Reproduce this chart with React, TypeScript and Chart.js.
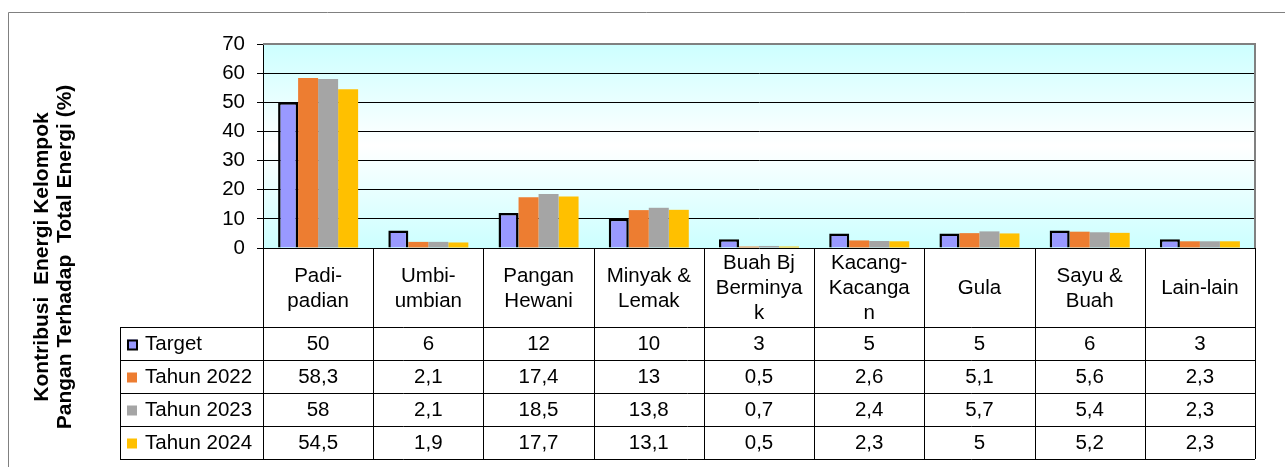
import React, { useEffect, useRef } from "react";
import { Chart, registerables } from "chart.js";

Chart.register(...registerables);

const categories: string[][] = [
  ["Padi-", "padian"],
  ["Umbi-", "umbian"],
  ["Pangan", "Hewani"],
  ["Minyak &", "Lemak"],
  ["Buah Bj", "Berminya", "k"],
  ["Kacang-", "Kacanga", "n"],
  ["Gula"],
  ["Sayu &", "Buah"],
  ["Lain-lain"],
];

const seriesNames = ["Target", "Tahun 2022", "Tahun 2023", "Tahun 2024"];
const target = [50, 6, 12, 10, 3, 5, 5, 6, 3];
const tahun2022 = [58.3, 2.1, 17.4, 13, 0.5, 2.6, 5.1, 5.6, 2.3];
const tahun2023 = [58, 2.1, 18.5, 13.8, 0.7, 2.4, 5.7, 5.4, 2.3];
const tahun2024 = [54.5, 1.9, 17.7, 13.1, 0.5, 2.3, 5, 5.2, 2.3];
const seriesColors = ["#9999FF", "#ED7D31", "#A5A5A5", "#FFC000"];
const yTitleLines = ["Kontribusi  Energi Kelompok", "Pangan Terhadap  Total Energi (%)"];

const FONT = '"Liberation Sans", Arial, sans-serif';

export default function App() {
  const ref = useRef<HTMLCanvasElement | null>(null);

  useEffect(() => {
    const canvas = ref.current;
    if (!canvas) return;
    const allSeries = [target, tahun2022, tahun2023, tahun2024];

    const tablePlugin = {
      id: "tablePlugin",
      beforeDraw(chart: any) {
        const { ctx, chartArea } = chart;
        const { left, top, right, bottom } = chartArea;
        ctx.save();
        ctx.fillStyle = "#FFFFFF";
        ctx.fillRect(0, 0, chart.width, chart.height);
        const g = ctx.createLinearGradient(0, top, 0, bottom);
        g.addColorStop(0, "#CCFFFF");
        g.addColorStop(0.5, "#FFFFFF");
        g.addColorStop(1, "#CCFFFF");
        ctx.fillStyle = g;
        ctx.fillRect(left, top, right - left, bottom - top);
        ctx.restore();
      },
      afterDraw(chart: any) {
        const { ctx, chartArea } = chart;
        const { left, top, right, bottom } = chartArea;
        const n = categories.length;
        const cw = (right - left) / n;
        ctx.save();
        // outer frame
        ctx.strokeStyle = "#808080";
        ctx.lineWidth = 1;
        ctx.beginPath();
        ctx.moveTo(8.5, chart.height);
        ctx.lineTo(8.5, 12.5);
        ctx.lineTo(chart.width, 12.5);
        ctx.stroke();
        // plot frame top/right
        ctx.lineWidth = 2;
        ctx.beginPath();
        ctx.moveTo(left, top);
        ctx.lineTo(right, top);
        ctx.lineTo(right, bottom);
        ctx.stroke();

        // table geometry
        const headerBottom = 327;
        const rowH = 33;
        const tableLeft = 120;
        const tableBottom = headerBottom + rowH * seriesNames.length;

        ctx.strokeStyle = "#000000";
        ctx.lineWidth = 1;
        ctx.beginPath();
        for (let k = 0; k <= n; k++) {
          const x = Math.round(left + k * cw) + 0.5;
          ctx.moveTo(x, bottom);
          ctx.lineTo(x, tableBottom);
        }
        ctx.moveTo(tableLeft + 0.5, headerBottom);
        ctx.lineTo(tableLeft + 0.5, tableBottom);
        for (let r = 0; r <= seriesNames.length; r++) {
          const y = headerBottom + r * rowH + 0.5;
          ctx.moveTo(tableLeft, y);
          ctx.lineTo(right, y);
        }
        ctx.stroke();

        // header text
        ctx.fillStyle = "#000000";
        ctx.font = `20.5px ${FONT}`;
        ctx.textAlign = "center";
        ctx.textBaseline = "middle";
        const xs = chart.scales.x;
        const headerMid = (bottom + headerBottom) / 2 + 1;
        const lh = 25;
        categories.forEach((lines, i) => {
          const cx = xs.getPixelForValue(i);
          const y0 = headerMid - ((lines.length - 1) * lh) / 2;
          lines.forEach((t, j) => ctx.fillText(t, cx, y0 + j * lh));
        });

        // rows
        seriesNames.forEach((name, r) => {
          const cy = headerBottom + r * rowH + rowH / 2 + 1;
          ctx.fillStyle = seriesColors[r];
          ctx.fillRect(127, cy - 5, 10, 10);
          if (r === 0) {
            ctx.strokeStyle = "#000";
            ctx.lineWidth = 2;
            ctx.strokeRect(128, cy - 4, 9, 9);
          }
          ctx.fillStyle = "#000";
          ctx.textAlign = "left";
          ctx.fillText(name, 145, cy);
          ctx.textAlign = "center";
          allSeries[r].forEach((v, i) => {
            const cx = xs.getPixelForValue(i);
            ctx.fillText(String(v).replace(".", ","), cx, cy);
          });
        });

        // y title
        ctx.font = `bold 21px ${FONT}`;
        ctx.textAlign = "center";
        ctx.textBaseline = "middle";
        ctx.translate(42, 257);
        ctx.rotate(-Math.PI / 2);
        yTitleLines.forEach((t, j) => ctx.fillText(t, 0, j * 23));
        ctx.restore();
      },
    };

    const chart = new Chart(canvas, {
      type: "bar",
      data: {
        labels: categories.map((c) => c.join(" ")),
        datasets: seriesNames.map((name, i) => ({
          label: name,
          data: allSeries[i],
          backgroundColor: seriesColors[i],
          borderColor: "#000000",
          borderWidth: i === 0 ? 2.5 : 0,
          categoryPercentage: 0.726,
          barPercentage: 1,
        })),
      },
      options: {
        responsive: false,
        animation: false,
        events: [],
        layout: { padding: { left: 200, top: 44, right: 30, bottom: 219 } },
        plugins: { legend: { display: false }, tooltip: { enabled: false }, title: { display: false } },
        scales: {
          x: { display: false },
          y: {
            min: 0,
            max: 70,
            afterFit(scale: any) {
              scale.width = 63;
            },
            ticks: {
              stepSize: 10,
              padding: 12,
              color: "#000",
              font: { family: FONT, size: 20.5 },
            },
            grid: { color: "#000", lineWidth: 1, tickLength: 6, drawTicks: true },
            border: { display: true, color: "#000", width: 1 },
          },
        },
      },
      plugins: [tablePlugin],
    });
    return () => chart.destroy();
  }, []);

  return (
    <div style={{ position: "fixed", left: 0, top: 0, width: 1285, height: 467, background: "#fff" }}>
      <canvas ref={ref} width={1285} height={467} />
    </div>
  );
}
